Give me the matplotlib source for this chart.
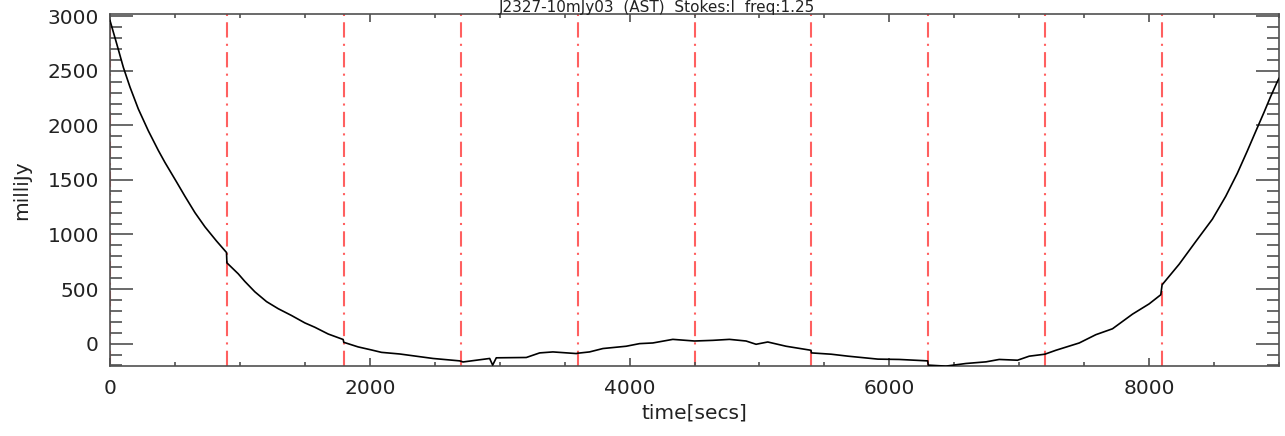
import matplotlib
matplotlib.use("Agg")
import matplotlib.pyplot as plt
from matplotlib.ticker import MultipleLocator

# time [secs] and flux [milliJy]
time_s = [0, 51, 103, 154, 218, 295, 372, 423, 513, 577, 654, 731, 820, 897, 900,
          987, 1038, 1115, 1205, 1295, 1397, 1500, 1577, 1680, 1795, 1800,
          1910, 2013, 2090, 2231, 2487, 2692, 2718, 2923, 2946, 2974, 3205, 3308,
          3410, 3590, 3600, 3692, 3795, 3974, 4077, 4179, 4333, 4500, 4641, 4769,
          4897, 4974, 5064, 5205, 5397, 5400, 5553, 5682, 5912, 6077, 6295, 6300,
          6436, 6590, 6744, 6846, 6987, 7077, 7197, 7282, 7462, 7590, 7718, 7872,
          8000, 8090, 8100, 8231, 8359, 8487, 8590, 8679, 8756, 8821, 8885, 8936,
          8987, 9000]
flux_mjy = [2960, 2750, 2530, 2350, 2150, 1950, 1770, 1660, 1480, 1350, 1200, 1070, 940, 835, 740,
            640, 570, 475, 385, 320, 258, 190, 150, 88, 38, 12,
            -30, -58, -80, -95, -136, -158, -168, -136, -197, -130, -127, -85,
            -76, -91, -88, -76, -45, -24, 0, 6, 39, 24, 30, 39,
            24, -6, 15, -24, -61, -85, -97, -115, -142, -145, -158, -197,
            -206, -182, -167, -145, -152, -115, -97, -61, 6, 82, 136, 270,
            364, 448, 539, 727, 935, 1140, 1350, 1560, 1765, 1945, 2120, 2265,
            2400, 2430]

# scan boundaries (red dash-dot markers)
boundaries = [0, 900, 1800, 2700, 3600, 4500, 5400, 6300, 7200, 8100]

title_text = "J2327-10mJy03  (AST)  Stokes:I  freq:1.25"
x_label = "time[secs]"
y_label = "milliJy"

plt.rcParams['lines.scale_dashes'] = False
fig = plt.figure(figsize=(12.85, 4.36), dpi=100)
ax = fig.add_axes([110/1285, 1 - 366/436, (1279 - 110)/1285, (366 - 14)/436])

for b in boundaries:
    ax.axvline(b, color='#ff6060', lw=1.5, dashes=(11, 4.5, 1.5, 4.5), zorder=1)

ax.plot(time_s, flux_mjy, color='black', lw=1.2, zorder=3)

ax.set_xlim(0, 9000)
ax.set_ylim(-205, 3020)
ax.xaxis.set_major_locator(MultipleLocator(2000))
ax.xaxis.set_minor_locator(MultipleLocator(500))
ax.yaxis.set_major_locator(MultipleLocator(500))
ax.yaxis.set_minor_locator(MultipleLocator(100))

axis_col = '#505050'
for s in ax.spines.values():
    s.set_color(axis_col)
    s.set_linewidth(1.2)
ax.tick_params(axis='both', which='both', direction='in', top=True, right=True,
               color=axis_col, width=1.2, labelsize=14.5, labelcolor='#222222')
ax.tick_params(axis='y', which='major', length=16.5, pad=8)
ax.tick_params(axis='y', which='minor', length=8.5)
ax.tick_params(axis='x', which='major', length=5.5, pad=9)
ax.tick_params(axis='x', which='minor', length=3)

ax.set_xlabel(x_label, fontsize=14.5, color='#222222', labelpad=4)
ax.set_ylabel(y_label, fontsize=14.5, color='#222222', labelpad=12)

fig.text(657/1285, 1 - 12/436, title_text, ha='center', va='baseline',
         fontsize=11, color='#222222')

fig.savefig('out.png', dpi=100)
